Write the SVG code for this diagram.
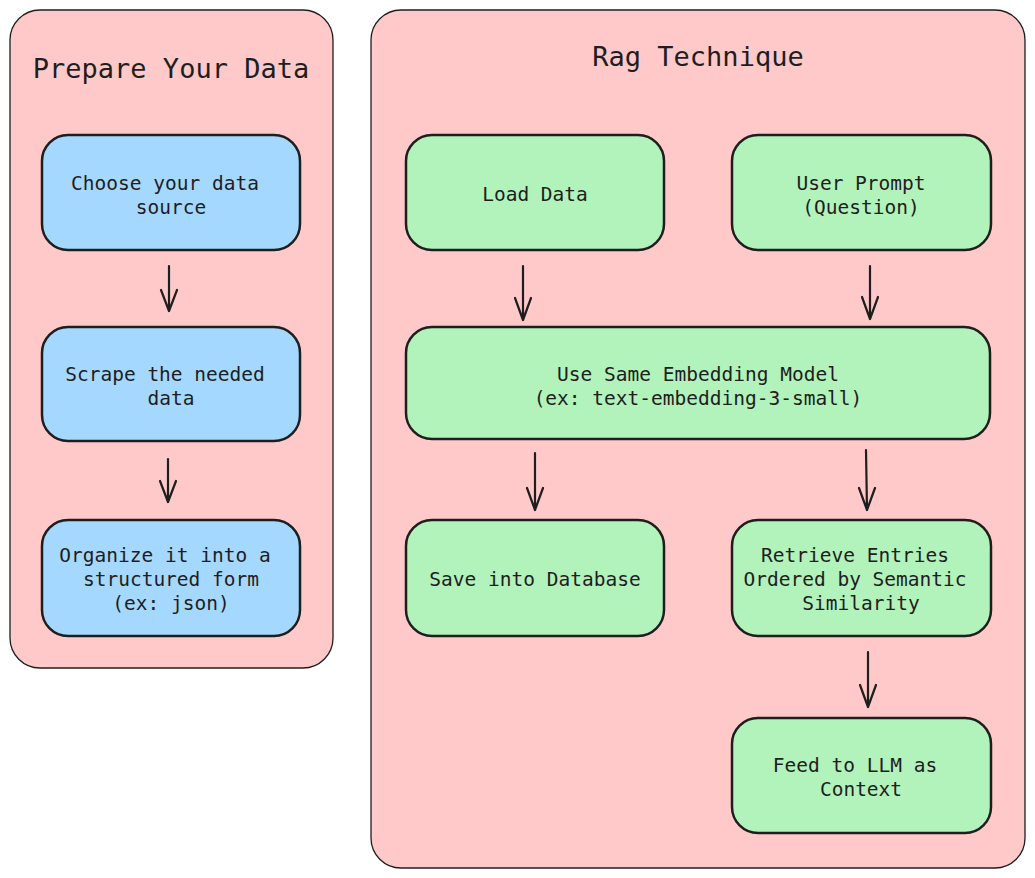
<svg xmlns="http://www.w3.org/2000/svg" width="1035" height="878" viewBox="0 0 1035 878">
<style>
.cont{fill:#ffc9c9;stroke:#1e1e1e;stroke-width:1.3}
.blue{fill:#a5d8ff;stroke:#1e1e1e;stroke-width:2.5}
.green{fill:#b2f2bb;stroke:#1e1e1e;stroke-width:2.5}
.t{font-family:"DejaVu Sans Mono","Liberation Mono",monospace;font-size:19.5px;fill:#1e1e1e;text-anchor:middle;dominant-baseline:central}
.title{font-family:"DejaVu Sans Mono","Liberation Mono",monospace;font-size:27px;fill:#1e1e1e;text-anchor:middle;dominant-baseline:central}
.arr{fill:none;stroke:#1e1e1e;stroke-width:2.2;stroke-linecap:round;stroke-linejoin:round}
</style>
<rect width="1035" height="878" fill="#ffffff"/>
<g id="prepare-container">
<rect class="cont" x="10" y="10" width="323" height="658" rx="30"/>
<text class="title" x="171" y="68">Prepare Your Data</text>
</g>
<g id="rag-container">
<rect class="cont" x="371" y="10" width="654" height="858" rx="30"/>
<text class="title" x="698" y="56">Rag Technique</text>
</g>
<g id="choose">
<rect class="blue" x="42" y="135" width="258" height="115" rx="26"/>
<text class="t" x="165" y="183">Choose your data</text>
<text class="t" x="171" y="207">source</text>
</g>
<g id="scrape">
<rect class="blue" x="42" y="327" width="258" height="114" rx="26"/>
<text class="t" x="165" y="374">Scrape the needed</text>
<text class="t" x="171" y="398">data</text>
</g>
<g id="organize">
<rect class="blue" x="42" y="520" width="258" height="116" rx="26"/>
<text class="t" x="165" y="555">Organize it into a</text>
<text class="t" x="171" y="579">structured form</text>
<text class="t" x="171" y="603">(ex: json)</text>
</g>
<g id="load">
<rect class="green" x="406" y="135" width="258" height="115" rx="26"/>
<text class="t" x="535" y="194">Load Data</text>
</g>
<g id="prompt">
<rect class="green" x="732" y="135" width="259" height="115" rx="26"/>
<text class="t" x="861" y="183">User Prompt</text>
<text class="t" x="861" y="207">(Question)</text>
</g>
<g id="embed">
<rect class="green" x="406" y="327" width="584" height="112" rx="26"/>
<text class="t" x="698" y="374">Use Same Embedding Model</text>
<text class="t" x="698" y="398">(ex: text-embedding-3-small)</text>
</g>
<g id="save">
<rect class="green" x="406" y="520" width="258" height="116" rx="26"/>
<text class="t" x="535" y="579">Save into Database</text>
</g>
<g id="retrieve">
<rect class="green" x="732" y="520" width="259" height="116" rx="26"/>
<text class="t" x="855" y="555">Retrieve Entries</text>
<text class="t" x="855" y="579">Ordered by Semantic</text>
<text class="t" x="861" y="603">Similarity</text>
</g>
<g id="feed">
<rect class="green" x="732" y="718" width="259" height="115" rx="26"/>
<text class="t" x="855" y="765">Feed to LLM as</text>
<text class="t" x="861" y="789">Context</text>
</g>
<g id="connectors">
<path class="arr" d="M169 266 L169 311 M161 290 L169 311 L177 290"/>
<path class="arr" d="M168 459 L168 502 M160 481 L168 502 L176 481"/>
<path class="arr" d="M523 266 L523 320 M515 298 L523 320 L531 298"/>
<path class="arr" d="M870 266 L870 319 M862 297 L870 319 L878 297"/>
<path class="arr" d="M535 453 L535 510 M527 488 L535 510 L543 488"/>
<path class="arr" d="M866 450 L867 510 M859 488 L867 510 L875 488"/>
<path class="arr" d="M868 652 L868 707 M860 685 L868 707 L876 685"/>
</g>
</svg>
